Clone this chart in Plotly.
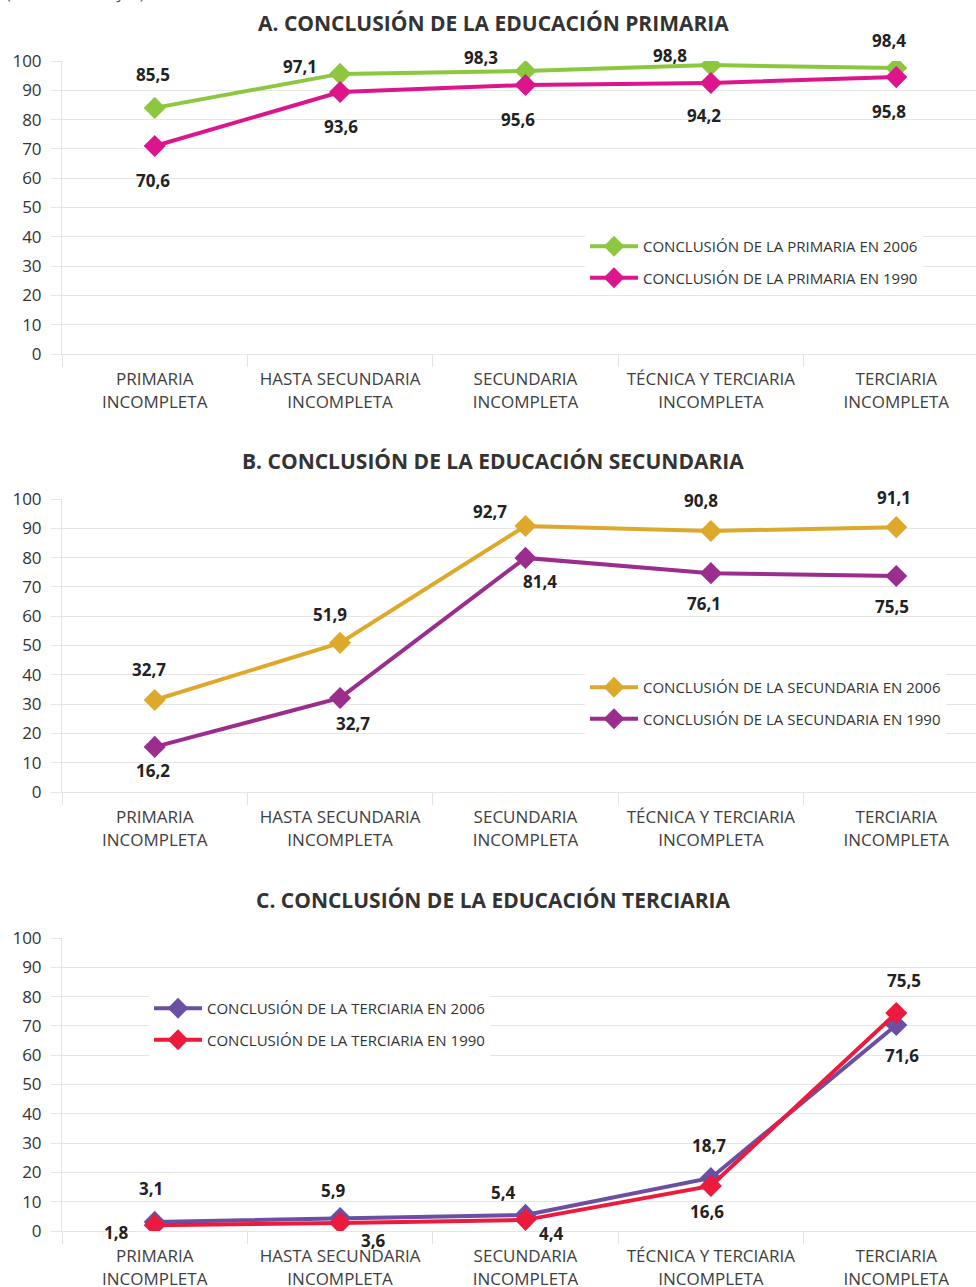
import plotly.graph_objects as go

# categories (same for the three panels)
categorias = ["PRIMARIA<br>INCOMPLETA", "HASTA SECUNDARIA<br>INCOMPLETA", "SECUNDARIA<br>INCOMPLETA",
              "TÉCNICA Y TERCIARIA<br>INCOMPLETA", "TERCIARIA<br>INCOMPLETA"]

# A. primaria  (plotted positions, label text as printed)
prim_2006 = [84.0, 95.6, 96.6, 98.6, 97.6]
prim_1990 = [71.0, 89.4, 91.8, 92.5, 94.5]
prim_2006_txt = ["85,5", "97,1", "98,3", "98,8", "98,4"]
prim_1990_txt = ["70,6", "93,6", "95,6", "94,2", "95,8"]

# B. secundaria
sec_2006 = [31.4, 50.9, 90.8, 89.1, 90.4]
sec_1990 = [15.4, 32.1, 79.9, 74.7, 73.7]
sec_2006_txt = ["32,7", "51,9", "92,7", "90,8", "91,1"]
sec_1990_txt = ["16,2", "32,7", "81,4", "76,1", "75,5"]

# C. terciaria
ter_2006 = [3.1, 4.4, 5.5, 18.1, 70.3]
ter_1990 = [2.0, 2.7, 3.8, 15.4, 74.4]
ter_2006_txt = ["3,1", "5,9", "5,4", "18,7", "71,6"]
ter_1990_txt = ["1,8", "3,6", "4,4", "16,6", "75,5"]

W, H = 976, 1287
OFF = 0  # body margin removed by the post script below, so positions are screen pixels
FONT = "Open Sans"
TXT = "#333333"

paneles = [
    dict(title="A. CONCLUSIÓN DE LA EDUCACIÓN PRIMARIA", top=61, bottom=354, title_y=23,
         series=[("CONCLUSIÓN DE LA PRIMARIA EN 2006", prim_2006, prim_2006_txt, "#8dc63f",
                  [(-2, 33), (-40, 7), (-44, 13), (-41, 10), (-7, 28)]),
                 ("CONCLUSIÓN DE LA PRIMARIA EN 1990", prim_1990, prim_1990_txt, "#dc158c",
                  [(-2, -35), (1, -34), (-7, -34), (-7, -33), (-7, -34)])],
         legend=dict(x=585, y=230)),
    dict(title="B. CONCLUSIÓN DE LA EDUCACIÓN SECUNDARIA", top=499, bottom=792, title_y=461,
         series=[("CONCLUSIÓN DE LA SECUNDARIA EN 2006", sec_2006, sec_2006_txt, "#dea92b",
                  [(-6, 31), (-10, 28), (-35, 14), (-10, 30), (-2, 30)]),
                 ("CONCLUSIÓN DE LA SECUNDARIA EN 1990", sec_1990, sec_1990_txt, "#9b2d8f",
                  [(-2, -24), (13, -26), (15, -24), (-7, -30), (-4, -30)])],
         legend=dict(x=585, y=671)),
    dict(title="C. CONCLUSIÓN DE LA EDUCACIÓN TERCIARIA", top=938, bottom=1231, title_y=900,
         series=[("CONCLUSIÓN DE LA TERCIARIA EN 2006", ter_2006, ter_2006_txt, "#6a4fa3",
                  [(-4, 33), (-7, 28), (-22, 22), (-2, 32), (6, -30)]),
                 ("CONCLUSIÓN DE LA TERCIARIA EN 1990", ter_1990, ter_1990_txt, "#ec1b3e",
                  [(-38, -7), (33, -17), (26, -14), (-4, -26), (8, 33)])],
         legend=dict(x=149, y=992)),
]


def px(x):
    return (x - OFF) / W


def py(y):
    return 1 - (y - OFF) / H


fig = go.Figure()
annotations = []
layout = {}

for i, p in enumerate(paneles):
    n = "" if i == 0 else str(i + 1)
    xa, ya = "x" + n, "y" + n
    leg = "legend" + n
    for k, (name, vals, txts, color, offs) in enumerate(p["series"]):
        fig.add_trace(go.Scatter(
            x=categorias, y=vals, name=name, mode="lines+markers",
            line=dict(color=color, width=4),
            marker=dict(symbol="diamond", size=17, color=color),
            xaxis=xa, yaxis=ya, legend=leg, legendgroup=f"{i}{k}",
        ))
        for cat, v, t, (dx, dy) in zip(categorias, vals, txts, offs):
            annotations.append(dict(x=cat, y=v, xref=xa, yref=ya, text=t, showarrow=False,
                                    xshift=dx, yshift=dy,
                                    font=dict(family=FONT, size=17, color="#222222", weight="bold")))
    annotations.append(dict(x=px(493), y=py(p["title_y"]), xref="paper", yref="paper",
                            text=f"<b>{p['title']}</b>", showarrow=False, yanchor="middle",
                            font=dict(family=FONT, size=21, color=TXT)))
    layout["xaxis" + n] = dict(
        domain=[px(62), 1], range=[-0.5, 4.43], anchor=ya, automargin=False,
        type="category", tickson="boundaries", ticks="outside", ticklen=12,
        tickcolor="#e3e3e3", showgrid=False, showline=True, linecolor="#e6e6e6",
        ticklabelstandoff=10,
        tickfont=dict(family=FONT, size=17, color="#404040"), zeroline=False,
    )
    layout["yaxis" + n] = dict(
        domain=[py(p["bottom"]), py(p["top"])], range=[0, 100], anchor=xa, dtick=10, tick0=0,
        automargin=False, ticks="outside", ticklen=10, tickcolor="#e6e6e6",
        showgrid=True, gridcolor="#e6e6e6", showline=True, linecolor="#e3e3e3",
        zeroline=False, ticklabelstandoff=6,
        tickfont=dict(family=FONT, size=17, color=TXT),
    )
    layout[leg] = dict(
        x=px(p["legend"]["x"]), y=py(p["legend"]["y"]), xanchor="left", yanchor="top",
        bgcolor="white", tracegroupgap=9, itemwidth=48,
        font=dict(family=FONT, size=15, color=TXT),
    )

# caption cut off at the top edge, as in the source
annotations.append(dict(x=px(4), y=1, xref="paper", yref="paper", text="(EN PORCENTAJES)",
                        showarrow=False, xanchor="left", yanchor="bottom", yshift=-6,
                        font=dict(family=FONT, size=16, color="#555555")))

fig.update_layout(
    width=W, height=H, margin=dict(l=0, r=0, t=0, b=0, autoexpand=False),
    plot_bgcolor="white", paper_bgcolor="white",
    annotations=annotations, **layout,
)

fig.write_html("out.html", config={"displayModeBar": False},
               post_script="document.body.style.margin='0px';")
